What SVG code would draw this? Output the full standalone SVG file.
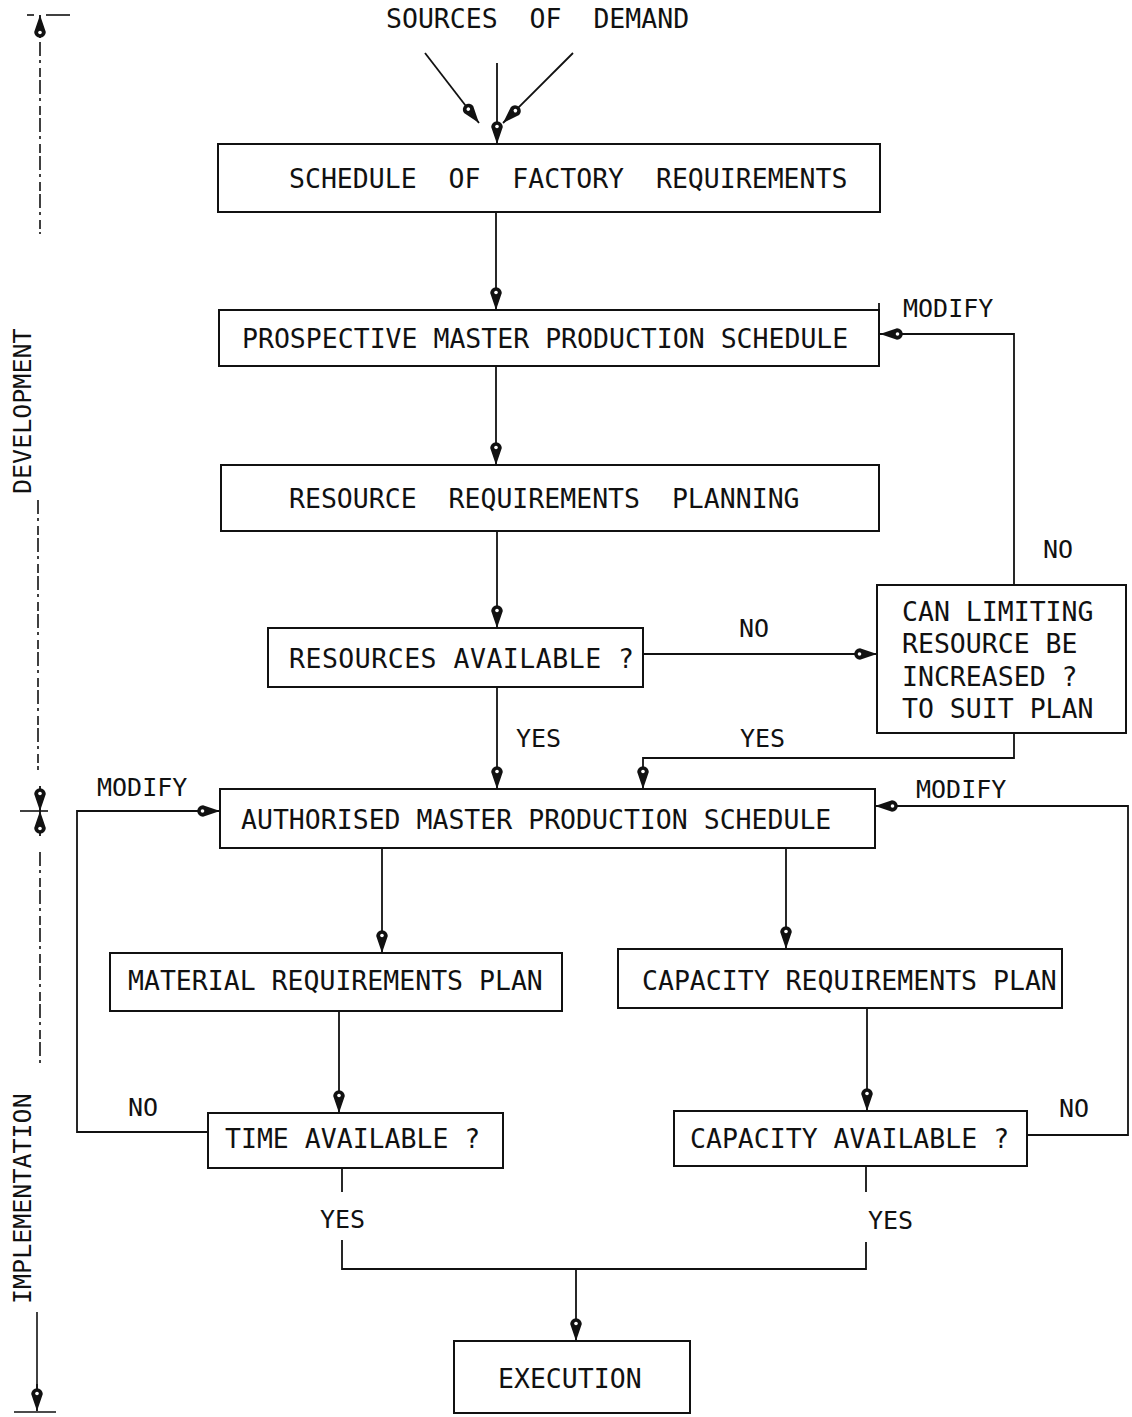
<svg xmlns="http://www.w3.org/2000/svg" width="1132" height="1417" viewBox="0 0 1132 1417" xml:space="preserve">
  <style>
    .bg { fill: #ffffff; }
    .box { fill: none; stroke: #111; stroke-width: 2; }
    .ln { fill: none; stroke: #111; stroke-width: 1.8; }
    .scale { fill: none; stroke: #111; stroke-width: 1.6; stroke-dasharray: 14 4 3 5 9 3; }
    .solidscale { fill: none; stroke: #111; stroke-width: 1.6; }
    text { font-family: "DejaVu Sans Mono", "Liberation Mono", monospace; font-size: 26.5px; fill: #111; white-space: pre; }
    .lbl { font-size: 25px; }
  </style>
  <defs>
    <!-- teardrop arrowhead, tip at the end of the path -->
    <marker id="arr" viewBox="0 -7 24 14" markerUnits="userSpaceOnUse" markerWidth="24" markerHeight="14" refX="24" refY="0" orient="auto">
      <path d="M24,0 L7,-5.8 A5.8,5.8 0 0,0 7,5.8 Z" fill="#111"/>
      <circle cx="6.5" cy="0" r="1.8" fill="#fff"/>
    </marker>
  </defs>

  <rect class="bg" x="0" y="0" width="1132" height="1417"/>

  <!-- phase scale on the left margin -->
  <g id="phase-scale">
    <line class="solidscale" x1="27" y1="15" x2="34" y2="15"/>
    <line class="solidscale" x1="46" y1="15" x2="70" y2="15"/>
    <line class="ln" x1="40" y1="38" x2="40" y2="15" marker-end="url(#arr)"/>
    <line class="scale" x1="40" y1="42" x2="40" y2="234"/>
    <text class="lbl" transform="translate(31,494) rotate(-90)">DEVELOPMENT</text>
    <line class="scale" x1="38" y1="500" x2="38" y2="770"/>
    <line class="solidscale" x1="20" y1="811" x2="48" y2="811"/>
    <line class="ln" x1="40" y1="786" x2="40" y2="811" marker-end="url(#arr)"/>
    <line class="ln" x1="40" y1="836" x2="40" y2="811" marker-end="url(#arr)"/>
    <line class="scale" x1="40" y1="852" x2="40" y2="1065"/>
    <text class="lbl" transform="translate(31,1304) rotate(-90)">IMPLEMENTATION</text>
    <line class="solidscale" x1="37" y1="1312" x2="37" y2="1390"/>
    <line class="ln" x1="37" y1="1384" x2="37" y2="1411" marker-end="url(#arr)"/>
    <line class="solidscale" x1="14" y1="1412" x2="56" y2="1412"/>
  </g>

  <!-- heading -->
  <g id="sources-of-demand">
    <text x="386" y="28">SOURCES  OF  DEMAND</text>
  </g>

  <!-- nodes -->
  <g id="schedule-of-factory-requirements">
    <rect class="box" x="218" y="144" width="662" height="68"/>
    <text x="289" y="188">SCHEDULE  OF  FACTORY  REQUIREMENTS</text>
  </g>
  <g id="prospective-mps">
    <rect class="box" x="219" y="310" width="660" height="56"/>
    <line class="ln" x1="879" y1="303" x2="879" y2="310"/>
    <text x="242" y="348">PROSPECTIVE MASTER PRODUCTION SCHEDULE</text>
  </g>
  <g id="resource-requirements-planning">
    <rect class="box" x="221" y="465" width="658" height="66"/>
    <text x="289" y="508">RESOURCE  REQUIREMENTS  PLANNING</text>
  </g>
  <g id="resources-available">
    <rect class="box" x="268" y="628" width="375" height="59"/>
    <text x="289" y="668" textLength="345" lengthAdjust="spacing">RESOURCES AVAILABLE ?</text>
  </g>
  <g id="can-limiting-resource">
    <rect class="box" x="877" y="585" width="249" height="148"/>
    <text x="902" y="621">CAN LIMITING</text>
    <text x="902" y="653">RESOURCE BE</text>
    <text x="902" y="686">INCREASED ?</text>
    <text x="902" y="718">TO SUIT PLAN</text>
  </g>
  <g id="authorised-mps">
    <rect class="box" x="220" y="789" width="655" height="59"/>
    <text x="241" y="829">AUTHORISED MASTER PRODUCTION SCHEDULE</text>
  </g>
  <g id="material-requirements-plan">
    <rect class="box" x="110" y="953" width="452" height="58"/>
    <text x="128" y="990">MATERIAL REQUIREMENTS PLAN</text>
  </g>
  <g id="capacity-requirements-plan">
    <rect class="box" x="618" y="949" width="444" height="59"/>
    <text x="642" y="990">CAPACITY REQUIREMENTS PLAN</text>
  </g>
  <g id="time-available">
    <rect class="box" x="208" y="1113" width="295" height="55"/>
    <text x="225" y="1148">TIME AVAILABLE ?</text>
  </g>
  <g id="capacity-available">
    <rect class="box" x="674" y="1111" width="353" height="55"/>
    <text x="690" y="1148">CAPACITY AVAILABLE ?</text>
  </g>
  <g id="execution">
    <rect class="box" x="454" y="1341" width="236" height="72"/>
    <text x="498" y="1388">EXECUTION</text>
  </g>

  <!-- connectors -->
  <g id="connectors">
    <line class="ln" x1="425" y1="53" x2="479" y2="123" marker-end="url(#arr)"/>
    <line class="ln" x1="573" y1="53" x2="503" y2="123" marker-end="url(#arr)"/>
    <line class="ln" x1="497" y1="63" x2="497" y2="144" marker-end="url(#arr)"/>

    <line class="ln" x1="496" y1="212" x2="496" y2="310" marker-end="url(#arr)"/>
    <line class="ln" x1="496" y1="366" x2="496" y2="465" marker-end="url(#arr)"/>
    <line class="ln" x1="497" y1="531" x2="497" y2="628" marker-end="url(#arr)"/>
    <line class="ln" x1="497" y1="687" x2="497" y2="789" marker-end="url(#arr)"/>

    <line class="ln" x1="643" y1="654" x2="877" y2="654" marker-end="url(#arr)"/>
    <polyline class="ln" points="1014,585 1014,334 880,334" marker-end="url(#arr)"/>
    <polyline class="ln" points="1014,733 1014,758 643,758 643,789" marker-end="url(#arr)"/>

    <line class="ln" x1="382" y1="848" x2="382" y2="953" marker-end="url(#arr)"/>
    <line class="ln" x1="786" y1="848" x2="786" y2="949" marker-end="url(#arr)"/>
    <line class="ln" x1="339" y1="1011" x2="339" y2="1113" marker-end="url(#arr)"/>
    <line class="ln" x1="867" y1="1008" x2="867" y2="1111" marker-end="url(#arr)"/>

    <polyline class="ln" points="208,1132 77,1132 77,811 220,811" marker-end="url(#arr)"/>
    <polyline class="ln" points="1027,1135 1128,1135 1128,806 875,806" marker-end="url(#arr)"/>

    <line class="ln" x1="342" y1="1168" x2="342" y2="1192"/>
    <polyline class="ln" points="342,1240 342,1269 866,1269 866,1242"/>
    <line class="ln" x1="866" y1="1166" x2="866" y2="1192"/>
    <line class="ln" x1="576" y1="1269" x2="576" y2="1341" marker-end="url(#arr)"/>

    <!-- branch labels -->
    <text class="lbl" x="903" y="317">MODIFY</text>
    <text class="lbl" x="1043" y="558">NO</text>
    <text class="lbl" x="739" y="637">NO</text>
    <text class="lbl" x="516" y="747">YES</text>
    <text class="lbl" x="740" y="747">YES</text>
    <text class="lbl" x="97" y="796">MODIFY</text>
    <text class="lbl" x="916" y="798">MODIFY</text>
    <text class="lbl" x="128" y="1116">NO</text>
    <text class="lbl" x="1059" y="1117">NO</text>
    <text class="lbl" x="320" y="1228">YES</text>
    <text class="lbl" x="868" y="1229">YES</text>
  </g>
</svg>
